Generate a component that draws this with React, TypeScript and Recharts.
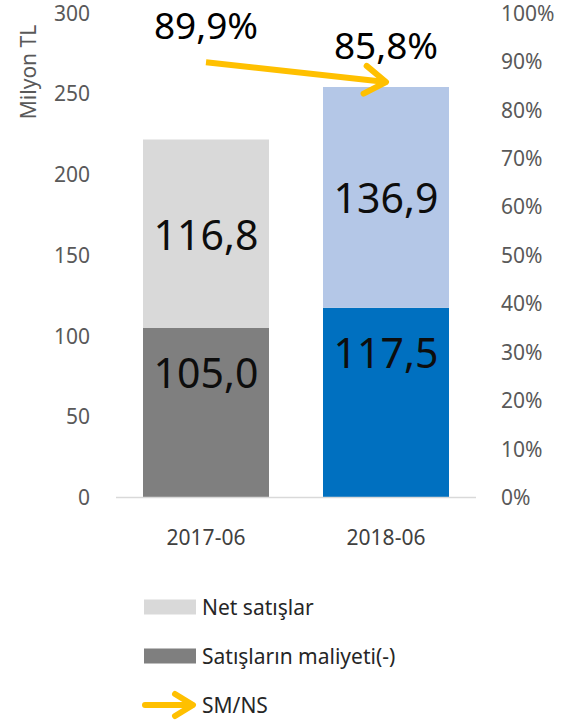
import React from 'react';
import { ComposedChart, Bar, Line, XAxis, YAxis, Cell, LabelList, Legend } from 'recharts';

const periods = ['2017-06', '2018-06'];
const netSales = [116.8, 136.9];
const costOfSales = [105.0, 117.5];
const costRatio = [89.9, 85.8];
const leftTicks = [0, 50, 100, 150, 200, 250, 300];
const rightTicks = [0, 10, 20, 30, 40, 50, 60, 70, 80, 90, 100];

const netColors = ['#D9D9D9', '#B4C7E7'];
const costColors = ['#7F7F7F', '#0070C0'];
const ARROW = '#FFC000';
const FONT = '"Noto Sans", "Open Sans", sans-serif';

const data = periods.map((period, i) => ({
  period,
  net: netSales[i],
  cost: costOfSales[i],
  ratio: costRatio[i],
}));

const fmt = (v: number) => v.toFixed(1).replace('.', ',');

const NetLabel = (p: any) => (
  <text
    x={p.x + p.width / 2}
    y={p.y + p.height / 2}
    textAnchor="middle"
    dominantBaseline="central"
    fontSize={41}
    fill="#0D0D0D"
  >
    {fmt(p.value)}
  </text>
);

const CostLabel = (p: any) => (
  <text
    x={p.x + p.width / 2}
    y={p.y + 44}
    textAnchor="middle"
    dominantBaseline="central"
    fontSize={41}
    fill="#0D0D0D"
  >
    {fmt(p.value)}
  </text>
);

const RatioLabel = (p: any) => (
  <text
    x={p.x}
    y={p.y - 38}
    textAnchor="middle"
    dominantBaseline="central"
    fontSize={37}
    fill="#000"
  >
    {fmt(p.value)}%
  </text>
);

const legendItems = [
  { name: 'Net satışlar', type: 'rect', color: netColors[0] },
  { name: 'Satışların maliyeti(-)', type: 'rect', color: costColors[0] },
  { name: 'SM/NS', type: 'arrow', color: ARROW },
];

const LegendBox = () => (
  <div style={{ fontFamily: FONT, fontSize: 21, color: '#262626' }}>
    {legendItems.map((it) => (
      <div key={it.name} style={{ display: 'flex', alignItems: 'center', height: 49 }}>
        <svg width={56} height={30} style={{ marginRight: 4 }}>
          {it.type === 'rect' ? (
            <rect x={2} y={7.5} width={52} height={15} fill={it.color} />
          ) : (
            <g stroke={it.color} strokeWidth={6} fill="none" strokeLinecap="round" strokeLinejoin="round">
              <line x1={3} y1={15} x2={50} y2={15} />
              <path d="M33,4 L51,15 L33,26" />
            </g>
          )}
        </svg>
        <span>{it.name}</span>
      </div>
    ))}
  </div>
);

export default function App() {
  return (
    <div style={{ position: 'absolute', left: 0, top: 0, width: 576, height: 724, background: '#fff' }}>
      <ComposedChart
        width={576}
        height={724}
        data={data}
        margin={{ top: 13.3, right: 0, bottom: 0, left: 0 }}
        barCategoryGap="15%"
        style={{ fontFamily: FONT }}
      >
        <defs>
          <marker
            id="arrowHead"
            viewBox="-30 -20 40 40"
            refX={0}
            refY={0}
            markerWidth={40}
            markerHeight={40}
            markerUnits="userSpaceOnUse"
            orient="auto"
          >
            <path
              d="M-21,-14 L0,0 L-21,14"
              stroke={ARROW}
              strokeWidth={6}
              fill="none"
              strokeLinecap="round"
              strokeLinejoin="round"
            />
          </marker>
        </defs>
        <XAxis
          dataKey="period"
          height={226.5}
          axisLine={{ stroke: '#D9D9D9', strokeWidth: 1.5 }}
          tickLine={false}
          tickSize={0}
          tickMargin={33}
          tick={{ fontSize: 21, fill: '#404040' }}
        />
        <YAxis
          yAxisId="left"
          width={116}
          domain={[0, 300]}
          ticks={leftTicks}
          axisLine={false}
          tickLine={false}
          tickSize={0}
          tickMargin={26}
          tick={{ fontSize: 21, fill: '#595959' }}
          label={{
            content: () => (
              <text
                transform="translate(28,72) rotate(-90)"
                textAnchor="middle"
                dominantBaseline="central"
                fontSize={21}
                fill="#595959"
              >
                Milyon TL
              </text>
            ),
          }}
        />
        <YAxis
          yAxisId="right"
          orientation="right"
          width={100}
          domain={[0, 100]}
          ticks={rightTicks}
          tickFormatter={(v) => `${v}%`}
          axisLine={false}
          tickLine={false}
          tickSize={0}
          tickMargin={25}
          tick={{ fontSize: 21, fill: '#595959' }}
        />
        <Bar yAxisId="left" dataKey="cost" stackId="s" isAnimationActive={false}>
          {data.map((_, i) => (
            <Cell key={i} fill={costColors[i]} />
          ))}
          <LabelList dataKey="cost" content={CostLabel} />
        </Bar>
        <Bar yAxisId="left" dataKey="net" stackId="s" isAnimationActive={false}>
          {data.map((_, i) => (
            <Cell key={i} fill={netColors[i]} />
          ))}
          <LabelList dataKey="net" content={NetLabel} />
        </Bar>
        <Line
          yAxisId="right"
          dataKey="ratio"
          stroke={ARROW}
          strokeWidth={6}
          dot={false}
          activeDot={false}
          markerEnd="url(#arrowHead)"
          isAnimationActive={false}
        >
          <LabelList dataKey="ratio" content={RatioLabel} />
        </Line>
        <Legend
          layout="vertical"
          align="center"
          verticalAlign="middle"
          content={LegendBox}
          wrapperStyle={{ top: 582, left: 142, width: 320, height: 150 }}
        />
      </ComposedChart>
    </div>
  );
}
